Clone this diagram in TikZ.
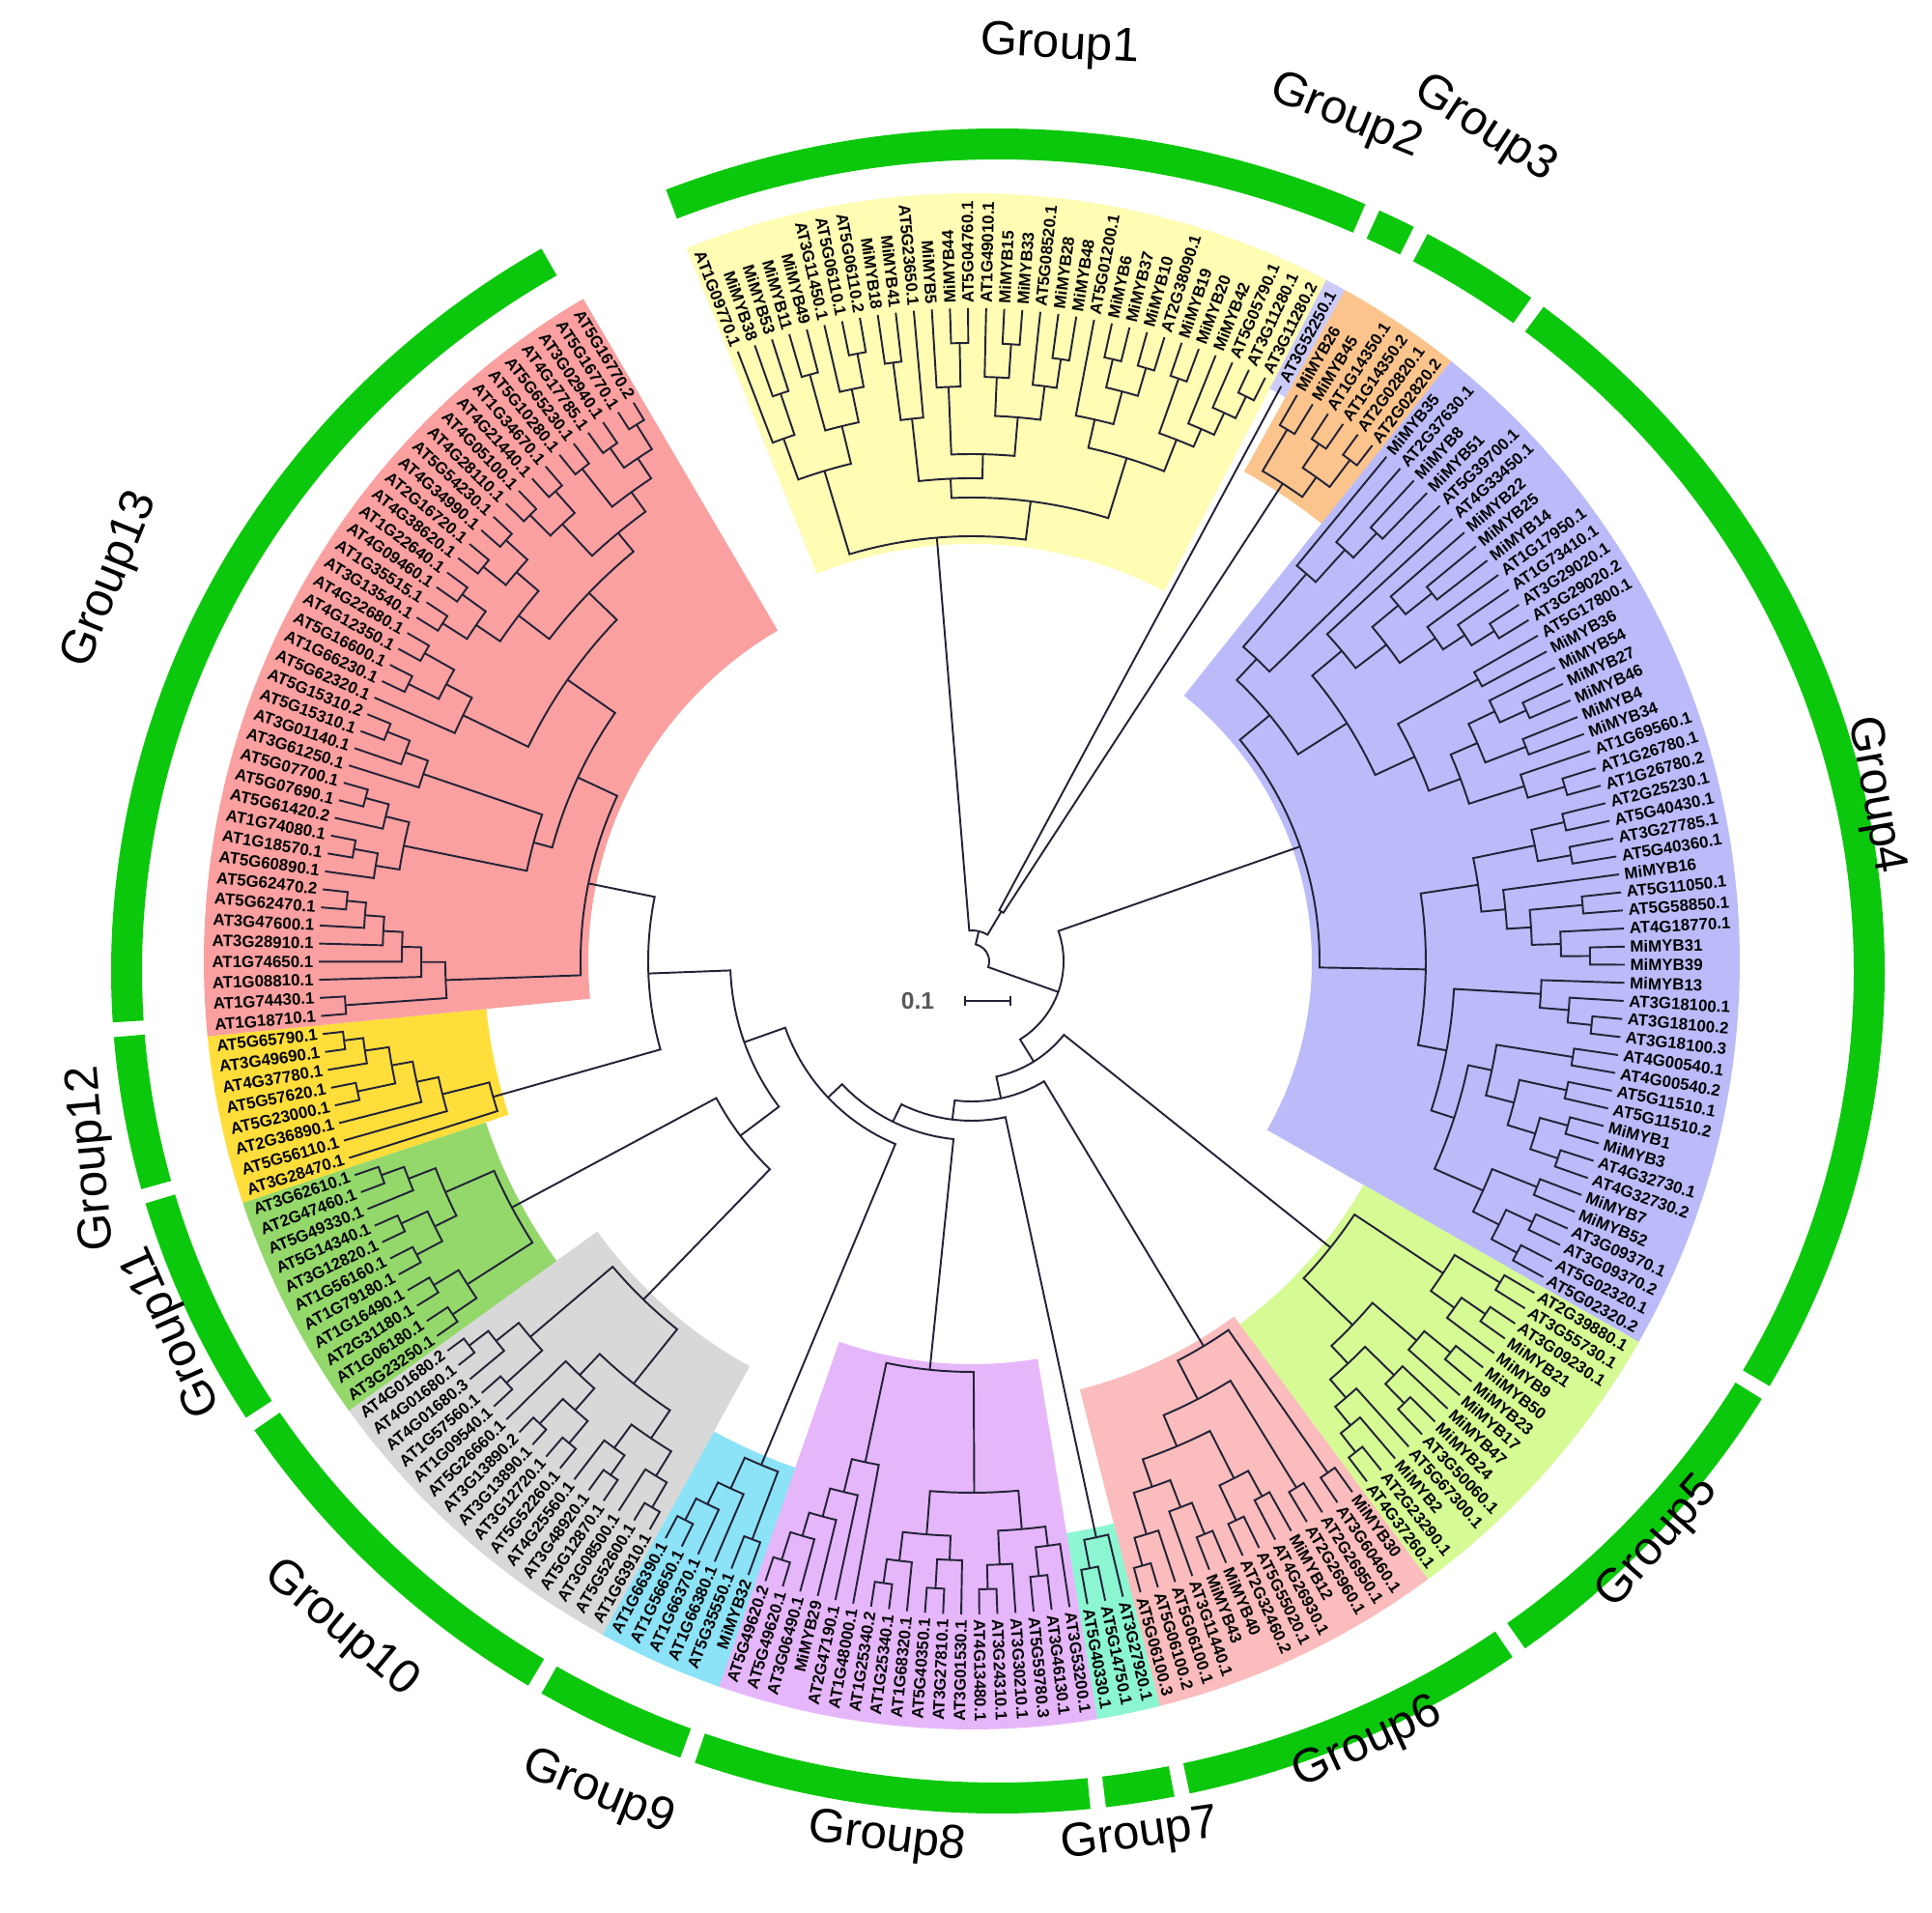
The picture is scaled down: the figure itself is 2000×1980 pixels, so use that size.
\documentclass[tikz,border=0pt]{standalone}
\usepackage{fontspec}
\setmainfont{Liberation Sans}
\usetikzlibrary{calc}

\definecolor{treeline}{RGB}{35,35,55}
\definecolor{ringgreen}{RGB}{12,200,12}
\definecolor{cG1}{RGB}{255,252,180}
\definecolor{cG2}{RGB}{204,204,250}
\definecolor{cG3}{RGB}{250,196,140}
\definecolor{cG4}{RGB}{187,187,250}
\definecolor{cG5}{RGB}{214,250,148}
\definecolor{cG6}{RGB}{250,188,188}
\definecolor{cG7}{RGB}{140,246,210}
\definecolor{cG8}{RGB}{230,182,250}
\definecolor{cG9}{RGB}{140,226,246}
\definecolor{cG10}{RGB}{216,216,216}
\definecolor{cG11}{RGB}{148,216,108}
\definecolor{cG12}{RGB}{255,222,60}
\definecolor{cG13}{RGB}{250,160,160}

\tikzset{
  branch/.style={draw=treeline, line width=0.55pt},
  leaflabel/.style={font=\fontsize{4.8}{5.5}\selectfont\bfseries, inner sep=0pt, text=black},
  grouplabel/.style={font=\fontsize{14}{16}\selectfont, inner sep=0pt},
  scalelabel/.style={font=\fontsize{7}{8}\selectfont\bfseries, text=black!65, inner sep=0pt},
  ringseg/.style={draw=ringgreen, line width=9.1pt},
}

% angle of leaf n (leaves run clockwise from the top)
\newcommand\leafang[1]{(111-1.59*(#1-1))}

% coloured sector behind a group: colour, inner radius, first leaf, last leaf
\newcommand\sector[4]{%
  \pgfmathsetmacro\sa{\leafang{#3}+0.8}%
  \pgfmathsetmacro\sb{\leafang{#4}-0.8}%
  \fill[#1] (\sa:#2) arc[start angle=\sa, end angle=\sb, radius=#2]
    -- (\sb:795) arc[start angle=\sb, end angle=\sa, radius=795] -- cycle;
}

% internal node: name, radius, first child, second child
\newcommand\clade[4]{%
  \edef\angA{\csname ang@#3\endcsname}%
  \edef\angB{\csname ang@#4\endcsname}%
  \pgfmathsetmacro\angM{(\angA+\angB)/2}%
  \expandafter\xdef\csname ang@#1\endcsname{\angM}%
  \coordinate (#1) at (\angM:#2);
  \draw[branch] (#3) -- (\angA:#2) arc[start angle=\angA, end angle=\angB, radius=#2] -- (#4);
}

\newcommand\leaflist{%
  AT1G09770.1,MiMYB38,MiMYB53,MiMYB11,MiMYB49,AT3G11450.1,AT5G06110.1,AT5G06110.2,
  MiMYB18,MiMYB41,AT5G23650.1,MiMYB5,MiMYB44,AT5G04760.1,AT1G49010.1,MiMYB15,
  MiMYB33,AT5G08520.1,MiMYB28,MiMYB48,AT5G01200.1,MiMYB6,MiMYB37,MiMYB10,
  AT2G38090.1,MiMYB19,MiMYB20,MiMYB42,AT5G05790.1,AT3G11280.1,AT3G11280.2,
  AT3G52250.1,
  MiMYB26,MiMYB45,AT1G14350.1,AT1G14350.2,AT2G02820.1,AT2G02820.2,
  MiMYB35,AT2G37630.1,MiMYB8,MiMYB51,AT5G39700.1,AT4G33450.1,MiMYB22,MiMYB25,
  MiMYB14,AT1G17950.1,AT1G73410.1,AT3G29020.1,AT3G29020.2,AT5G17800.1,MiMYB36,
  MiMYB54,MiMYB27,MiMYB46,MiMYB4,MiMYB34,AT1G69560.1,AT1G26780.1,AT1G26780.2,
  AT2G25230.1,AT5G40430.1,AT3G27785.1,AT5G40360.1,MiMYB16,AT5G11050.1,AT5G58850.1,
  AT4G18770.1,MiMYB31,MiMYB39,MiMYB13,AT3G18100.1,AT3G18100.2,AT3G18100.3,
  AT4G00540.1,AT4G00540.2,AT5G11510.1,AT5G11510.2,MiMYB1,MiMYB3,AT4G32730.1,
  AT4G32730.2,MiMYB7,MiMYB52,AT3G09370.1,AT3G09370.2,AT5G02320.1,AT5G02320.2,
  AT2G39880.1,AT3G55730.1,AT3G09230.1,MiMYB21,MiMYB9,MiMYB50,MiMYB23,MiMYB17,
  MiMYB47,MiMYB24,AT3G50060.1,AT5G67300.1,MiMYB2,AT2G23290.1,AT4G37260.1,
  MiMYB30,AT3G60460.1,AT2G26950.1,AT2G26960.1,MiMYB12,AT4G26930.1,AT5G55020.1,
  AT2G32460.2,MiMYB40,MiMYB43,AT3G11440.1,AT5G06100.1,AT5G06100.2,AT5G06100.3,
  AT3G27920.1,AT5G14750.1,AT5G40330.1,
  AT3G53200.1,AT3G46130.1,AT5G59780.3,AT3G30210.1,AT3G24310.1,AT4G13480.1,
  AT3G01530.1,AT3G27810.1,AT5G40350.1,AT1G68320.1,AT1G25340.1,AT1G25340.2,
  AT1G48000.1,AT2G47190.1,MiMYB29,AT3G06490.1,AT5G49620.1,AT5G49620.2,
  MiMYB32,AT5G35550.1,AT1G66380.1,AT1G66370.1,AT1G56650.1,AT1G66390.1,
  AT1G63910.1,AT5G52600.1,AT3G08500.1,AT5G12870.1,AT3G48920.1,AT4G25560.1,
  AT5G52260.1,AT3G12720.1,AT3G13890.1,AT3G13890.2,AT5G26660.1,AT1G09540.1,
  AT1G57560.1,AT4G01680.3,AT4G01680.1,AT4G01680.2,
  AT3G23250.1,AT1G06180.1,AT2G31180.1,AT1G16490.1,AT1G79180.1,AT1G56160.1,
  AT3G12820.1,AT5G14340.1,AT5G49330.1,AT2G47460.1,AT3G62610.1,
  AT3G28470.1,AT5G56110.1,AT2G36890.1,AT5G23000.1,AT5G57620.1,AT4G37780.1,
  AT3G49690.1,AT5G65790.1,
  AT1G18710.1,AT1G74430.1,AT1G08810.1,AT1G74650.1,AT3G28910.1,AT3G47600.1,
  AT5G62470.1,AT5G62470.2,AT5G60890.1,AT1G18570.1,AT1G74080.1,AT5G61420.2,
  AT5G07690.1,AT5G07700.1,AT3G61250.1,AT3G01140.1,AT5G15310.1,AT5G15310.2,
  AT5G62320.1,AT1G66230.1,AT5G16600.1,AT4G12350.1,AT4G22680.1,AT3G13540.1,
  AT1G35515.1,AT4G09460.1,AT1G22640.1,AT4G38620.1,AT2G16720.1,AT4G34990.1,
  AT5G54230.1,AT4G28110.1,AT4G05100.1,AT4G21440.1,AT1G34670.1,AT5G10280.1,
  AT5G65230.1,AT4G17785.1,AT3G02940.1,AT5G16770.1,AT5G16770.2}

\begin{document}
\begin{tikzpicture}[x=0.01cm, y=0.01cm]
  \useasboundingbox (-1006,-985) rectangle (994,995);

  % group sectors
  \sector{cG1}{432}{1}{31}
  \sector{cG2}{668}{32}{32}
  \sector{cG3}{580}{33}{38}
  \sector{cG4}{352}{39}{89}
  \sector{cG5}{467}{90}{104}
  \sector{cG6}{457}{105}{118}
  \sector{cG7}{600}{119}{121}
  \sector{cG8}{417}{122}{139}
  \sector{cG9}{555}{140}{145}
  \sector{cG10}{478}{146}{161}
  \sector{cG11}{530}{162}{172}
  \sector{cG12}{505}{173}{180}
  \sector{cG13}{397}{181}{221}

  % outer green ring
  \begin{scope}[shift={(27,-10)}]
    \foreach \a/\b in {112/65.5, 64.5/62, 61/53, 52/-29.5, -30.5/-53.5, -54.5/-77.5,
                       -78.5/-83, -84/-110, -111/-121, -122/-147, -148/-164,
                       -165/-175.5, -176.5/-239}
      \draw[ringseg] (\a:902 and 856) arc[start angle=\a, end angle=\b, x radius=902, y radius=856];
  \end{scope}

  % leaves and their labels
  \foreach \lab [count=\i] in \leaflist {
    \pgfmathsetmacro\ang{\leafang{\i}}
    \expandafter\xdef\csname ang@l\i\endcsname{\ang}
    \coordinate (l\i) at (\ang:676);
    \pgfmathtruncatemacro\flip{(\ang>=92.7)||(\ang<=-90)}
    \ifnum\flip=0
      \node[leaflabel, anchor=west, rotate=\ang] (t\i) at (\ang:681) {\lab};
    \else
      \pgfmathsetmacro\rot{\ang-180}
      \node[leaflabel, anchor=east, rotate=\rot] (t\i) at (\ang:681) {\lab};
    \fi
  }

  % Group1
  \clade{g1n1}{620}{l2}{l3}
  \clade{g1n2}{575}{l1}{g1n1}
  \clade{g1n3}{630}{l4}{l5}
  \clade{g1n4}{640}{l7}{l8}
  \clade{g1n5}{605}{l6}{g1n4}
  \clade{g1n6}{570}{g1n3}{g1n5}
  \clade{g1n7}{530}{g1n2}{g1n6}
  \clade{g1n8}{625}{l9}{l10}
  \clade{g1n9}{565}{g1n8}{l11}
  \clade{g1n10}{640}{l13}{l14}
  \clade{g1n11}{595}{l12}{g1n10}
  \clade{g1n12}{640}{l16}{l17}
  \clade{g1n13}{605}{l15}{g1n12}
  \clade{g1n14}{630}{l19}{l20}
  \clade{g1n15}{600}{l18}{g1n14}
  \clade{g1n16}{565}{g1n13}{g1n15}
  \clade{g1n17}{525}{g1n11}{g1n16}
  \clade{g1n18}{500}{g1n9}{g1n17}
  \clade{g1n19}{640}{l22}{l23}
  \clade{g1n20}{640}{l24}{l25}
  \clade{g1n21}{610}{g1n19}{g1n20}
  \clade{g1n22}{575}{l21}{g1n21}
  \clade{g1n23}{640}{l26}{l27}
  \clade{g1n24}{650}{l30}{l31}
  \clade{g1n25}{625}{l29}{g1n24}
  \clade{g1n26}{600}{l28}{g1n25}
  \clade{g1n27}{580}{g1n23}{g1n26}
  \clade{g1n28}{545}{g1n22}{g1n27}
  \clade{g1n29}{480}{g1n18}{g1n28}
  \clade{G1}{440}{g1n7}{g1n29}

  % Group3
  \clade{g3n1}{640}{l33}{l34}
  \clade{g3n2}{645}{l35}{l36}
  \clade{g3n3}{650}{l37}{l38}
  \clade{g3n4}{615}{g3n2}{g3n3}
  \clade{G3}{590}{g3n1}{g3n4}

  % Group4
  \clade{g4n1}{610}{l41}{l42}
  \clade{g4n2}{575}{l40}{g4n1}
  \clade{g4n3}{530}{l39}{g4n2}
  \clade{g4n4}{430}{g4n3}{l43}
  \clade{g4n5}{610}{l46}{l47}
  \clade{g4n6}{575}{l45}{g4n5}
  \clade{g4n7}{640}{l50}{l51}
  \clade{g4n8}{612}{l49}{g4n7}
  \clade{g4n9}{585}{l48}{g4n8}
  \clade{g4n10}{540}{g4n6}{g4n9}
  \clade{g4n11}{500}{l44}{g4n10}
  \clade{g4n12}{600}{l52}{l53}
  \clade{g4n13}{630}{l55}{l56}
  \clade{g4n14}{600}{l54}{g4n13}
  \clade{g4n15}{615}{l57}{l58}
  \clade{g4n16}{570}{g4n14}{g4n15}
  \clade{g4n17}{640}{l60}{l61}
  \clade{g4n18}{600}{l59}{g4n17}
  \clade{g4n19}{540}{g4n16}{g4n18}
  \clade{g4n20}{505}{g4n12}{g4n19}
  \clade{g4n21}{460}{g4n11}{g4n20}
  \clade{g4n22}{400}{g4n4}{g4n21}
  \clade{g4n23}{630}{l62}{l63}
  \clade{g4n24}{630}{l64}{l65}
  \clade{g4n25}{595}{g4n23}{g4n24}
  \clade{g4n26}{635}{l67}{l68}
  \clade{g4n27}{640}{l70}{l71}
  \clade{g4n28}{610}{l69}{g4n27}
  \clade{g4n29}{580}{g4n26}{g4n28}
  \clade{g4n30}{555}{l66}{g4n29}
  \clade{g4n31}{530}{g4n25}{g4n30}
  \clade{g4n32}{645}{l74}{l75}
  \clade{g4n33}{620}{l73}{g4n32}
  \clade{g4n34}{590}{l72}{g4n33}
  \clade{g4n35}{630}{l76}{l77}
  \clade{g4n36}{630}{l78}{l79}
  \clade{g4n37}{640}{l80}{l81}
  \clade{g4n38}{640}{l82}{l83}
  \clade{g4n39}{610}{g4n37}{g4n38}
  \clade{g4n40}{580}{g4n36}{g4n39}
  \clade{g4n41}{550}{g4n35}{g4n40}
  \clade{g4n42}{630}{l84}{l85}
  \clade{g4n43}{640}{l86}{l87}
  \clade{g4n44}{640}{l88}{l89}
  \clade{g4n45}{610}{g4n43}{g4n44}
  \clade{g4n46}{580}{g4n42}{g4n45}
  \clade{g4n47}{525}{g4n41}{g4n46}
  \clade{g4n48}{500}{g4n34}{g4n47}
  \clade{g4n49}{470}{g4n31}{g4n48}
  \clade{G4}{360}{g4n22}{g4n49}

  % Group5
  \clade{g5n1}{640}{l90}{l91}
  \clade{g5n2}{645}{l92}{l93}
  \clade{g5n3}{615}{g5n2}{l94}
  \clade{g5n4}{585}{g5n1}{g5n3}
  \clade{g5n5}{640}{l95}{l96}
  \clade{g5n6}{605}{g5n5}{l97}
  \clade{g5n7}{640}{l99}{l100}
  \clade{g5n8}{612}{l98}{g5n7}
  \clade{g5n9}{645}{l103}{l104}
  \clade{g5n10}{620}{l102}{g5n9}
  \clade{g5n11}{595}{l101}{g5n10}
  \clade{g5n12}{570}{g5n8}{g5n11}
  \clade{g5n13}{545}{g5n6}{g5n12}
  \clade{G5}{475}{g5n4}{g5n13}

  % Group6
  \clade{g6n1}{645}{l105}{l106}
  \clade{g6n2}{640}{l107}{l108}
  \clade{g6n3}{630}{l109}{l110}
  \clade{g6n4}{640}{l111}{l112}
  \clade{g6n5}{600}{g6n3}{g6n4}
  \clade{g6n6}{640}{l113}{l114}
  \clade{g6n7}{605}{g6n6}{l115}
  \clade{g6n8}{650}{l117}{l118}
  \clade{g6n9}{620}{l116}{g6n8}
  \clade{g6n10}{575}{g6n7}{g6n9}
  \clade{g6n11}{545}{g6n5}{g6n10}
  \clade{g6n12}{510}{g6n2}{g6n11}
  \clade{G6}{465}{g6n1}{g6n12}

  % Group7
  \clade{g7n1}{640}{l120}{l121}
  \clade{G7}{610}{l119}{g7n1}

  % Group8
  \clade{g8n1}{640}{l123}{l124}
  \clade{g8n2}{610}{l122}{g8n1}
  \clade{g8n3}{650}{l126}{l127}
  \clade{g8n4}{625}{l125}{g8n3}
  \clade{g8n5}{590}{g8n2}{g8n4}
  \clade{g8n6}{650}{l129}{l130}
  \clade{g8n7}{620}{l128}{g8n6}
  \clade{g8n8}{650}{l132}{l133}
  \clade{g8n9}{625}{l131}{g8n8}
  \clade{g8n10}{595}{g8n7}{g8n9}
  \clade{g8n11}{550}{g8n5}{g8n10}
  \clade{g8n12}{650}{l138}{l139}
  \clade{g8n13}{620}{l137}{g8n12}
  \clade{g8n14}{595}{l136}{g8n13}
  \clade{g8n15}{565}{l135}{g8n14}
  \clade{g8n16}{530}{l134}{g8n15}
  \clade{G8}{425}{g8n11}{g8n16}

  % Group9
  \clade{g9n1}{640}{l140}{l141}
  \clade{g9n2}{650}{l144}{l145}
  \clade{g9n3}{625}{l143}{g9n2}
  \clade{g9n4}{600}{l142}{g9n3}
  \clade{G9}{565}{g9n1}{g9n4}

  % Group10
  \clade{g10n1}{655}{l146}{l147}
  \clade{g10n2}{625}{l148}{g10n1}
  \clade{g10n3}{650}{l149}{l150}
  \clade{g10n4}{625}{l151}{g10n3}
  \clade{g10n5}{595}{g10n2}{g10n4}
  \clade{g10n6}{650}{l152}{l153}
  \clade{g10n7}{655}{l154}{l155}
  \clade{g10n8}{620}{g10n6}{g10n7}
  \clade{g10n9}{590}{l156}{g10n8}
  \clade{g10n10}{560}{g10n5}{g10n9}
  \clade{g10n11}{650}{l157}{l158}
  \clade{g10n12}{655}{l160}{l161}
  \clade{g10n13}{630}{l159}{g10n12}
  \clade{g10n14}{600}{g10n11}{g10n13}
  \clade{G10}{488}{g10n10}{g10n14}

  % Group11
  \clade{g11n1}{650}{l171}{l172}
  \clade{g11n2}{625}{l170}{g11n1}
  \clade{g11n3}{650}{l168}{l169}
  \clade{g11n4}{650}{l166}{l167}
  \clade{g11n5}{620}{g11n4}{g11n3}
  \clade{g11n6}{595}{g11n5}{g11n2}
  \clade{g11n7}{650}{l162}{l163}
  \clade{g11n8}{650}{l164}{l165}
  \clade{g11n9}{620}{g11n7}{g11n8}
  \clade{G11}{540}{g11n9}{g11n6}

  % Group12
  \clade{g12n1}{655}{l179}{l180}
  \clade{g12n2}{635}{l178}{g12n1}
  \clade{g12n3}{650}{l176}{l177}
  \clade{g12n4}{610}{g12n3}{g12n2}
  \clade{g12n5}{588}{l175}{g12n4}
  \clade{g12n6}{565}{l174}{g12n5}
  \clade{G12}{515}{l173}{g12n6}

  % Group13
  \clade{g13n1}{650}{l187}{l188}
  \clade{g13n2}{630}{l186}{g13n1}
  \clade{g13n3}{610}{l185}{g13n2}
  \clade{g13n4}{590}{l184}{g13n3}
  \clade{g13n5}{570}{l183}{g13n4}
  \clade{g13n6}{650}{l181}{l182}
  \clade{g13n7}{545}{g13n6}{g13n5}
  \clade{g13n8}{650}{l190}{l191}
  \clade{g13n9}{625}{l189}{g13n8}
  \clade{g13n10}{650}{l193}{l194}
  \clade{g13n11}{625}{l192}{g13n10}
  \clade{g13n12}{600}{g13n9}{g13n11}
  \clade{g13n13}{650}{l197}{l198}
  \clade{g13n14}{625}{l196}{g13n13}
  \clade{g13n15}{600}{l195}{g13n14}
  \clade{g13n16}{470}{g13n12}{g13n15}
  \clade{g13n17}{650}{l200}{l201}
  \clade{g13n18}{650}{l202}{l203}
  \clade{g13n19}{615}{g13n17}{g13n18}
  \clade{g13n20}{585}{l199}{g13n19}
  \clade{g13n21}{650}{l204}{l205}
  \clade{g13n22}{650}{l206}{l207}
  \clade{g13n23}{620}{g13n21}{g13n22}
  \clade{g13n24}{650}{l208}{l209}
  \clade{g13n25}{650}{l210}{l211}
  \clade{g13n26}{620}{g13n24}{g13n25}
  \clade{g13n27}{590}{g13n23}{g13n26}
  \clade{g13n28}{650}{l212}{l213}
  \clade{g13n29}{650}{l214}{l215}
  \clade{g13n30}{620}{g13n28}{g13n29}
  \clade{g13n31}{650}{l216}{l217}
  \clade{g13n32}{650}{l218}{l219}
  \clade{g13n33}{655}{l220}{l221}
  \clade{g13n34}{625}{g13n32}{g13n33}
  \clade{g13n35}{600}{g13n31}{g13n34}
  \clade{g13n36}{575}{g13n30}{g13n35}
  \clade{g13n37}{550}{g13n27}{g13n36}
  \clade{g13n38}{510}{g13n20}{g13n37}
  \clade{g13n39}{450}{g13n16}{g13n38}
  \clade{G13}{405}{g13n7}{g13n39}

  % backbone
  \clade{b23}{60}{l32}{G3}
  \clade{b123}{32}{G1}{b23}
  \clade{b1011}{300}{G10}{G11}
  \clade{b1213}{335}{G12}{G13}
  \clade{b1013}{250}{b1011}{b1213}
  \clade{b913}{205}{G9}{b1013}
  \clade{b813}{185}{G8}{b913}
  \clade{b713}{165}{G7}{b813}
  \clade{b613}{145}{G6}{b713}
  \clade{b513}{122}{G5}{b613}
  \clade{b413}{95}{G4}{b513}
  \clade{root}{18}{b123}{b413}

  % scale bar
  \coordinate (sbL) at (-7,-41);
  \coordinate (sbR) at (40,-41);
  \node[scalelabel] (sc) at (-56,-41) {0.1};
  \draw[branch] (sbL) -- (sbR);
  \draw[branch] ([yshift=1.5pt]sbL) -- ([yshift=-1.5pt]sbL);
  \draw[branch] ([yshift=1.5pt]sbR) -- ([yshift=-1.5pt]sbR);

  % group names
  \node[grouplabel, rotate=-3]  (n1)  at (91,947)    {Group1};
  \node[grouplabel, rotate=-22] (n2)  at (387,874)   {Group2};
  \node[grouplabel, rotate=-33] (n3)  at (531,861)   {Group3};
  \node[grouplabel, rotate=-80] (n4)  at (935,172)   {Group4};
  \node[grouplabel, rotate=49]  (n5)  at (710,-602)  {Group5};
  \node[grouplabel, rotate=25]  (n6)  at (410,-810)  {Group6};
  \node[grouplabel, rotate=8]   (n7)  at (174,-905)  {Group7};
  \node[grouplabel, rotate=-7]  (n8)  at (-88,-908)  {Group8};
  \node[grouplabel, rotate=-22] (n9)  at (-387,-861) {Group9};
  \node[grouplabel, rotate=-40] (n10) at (-653,-691) {Group10};
  \node[grouplabel, rotate=114] (n11) at (-827,-383) {Group11};
  \node[grouplabel, rotate=95]  (n12) at (-910,-204) {Group12};
  \node[grouplabel, rotate=68]  (n13) at (-891,395)  {Group13};
\end{tikzpicture}
\end{document}
